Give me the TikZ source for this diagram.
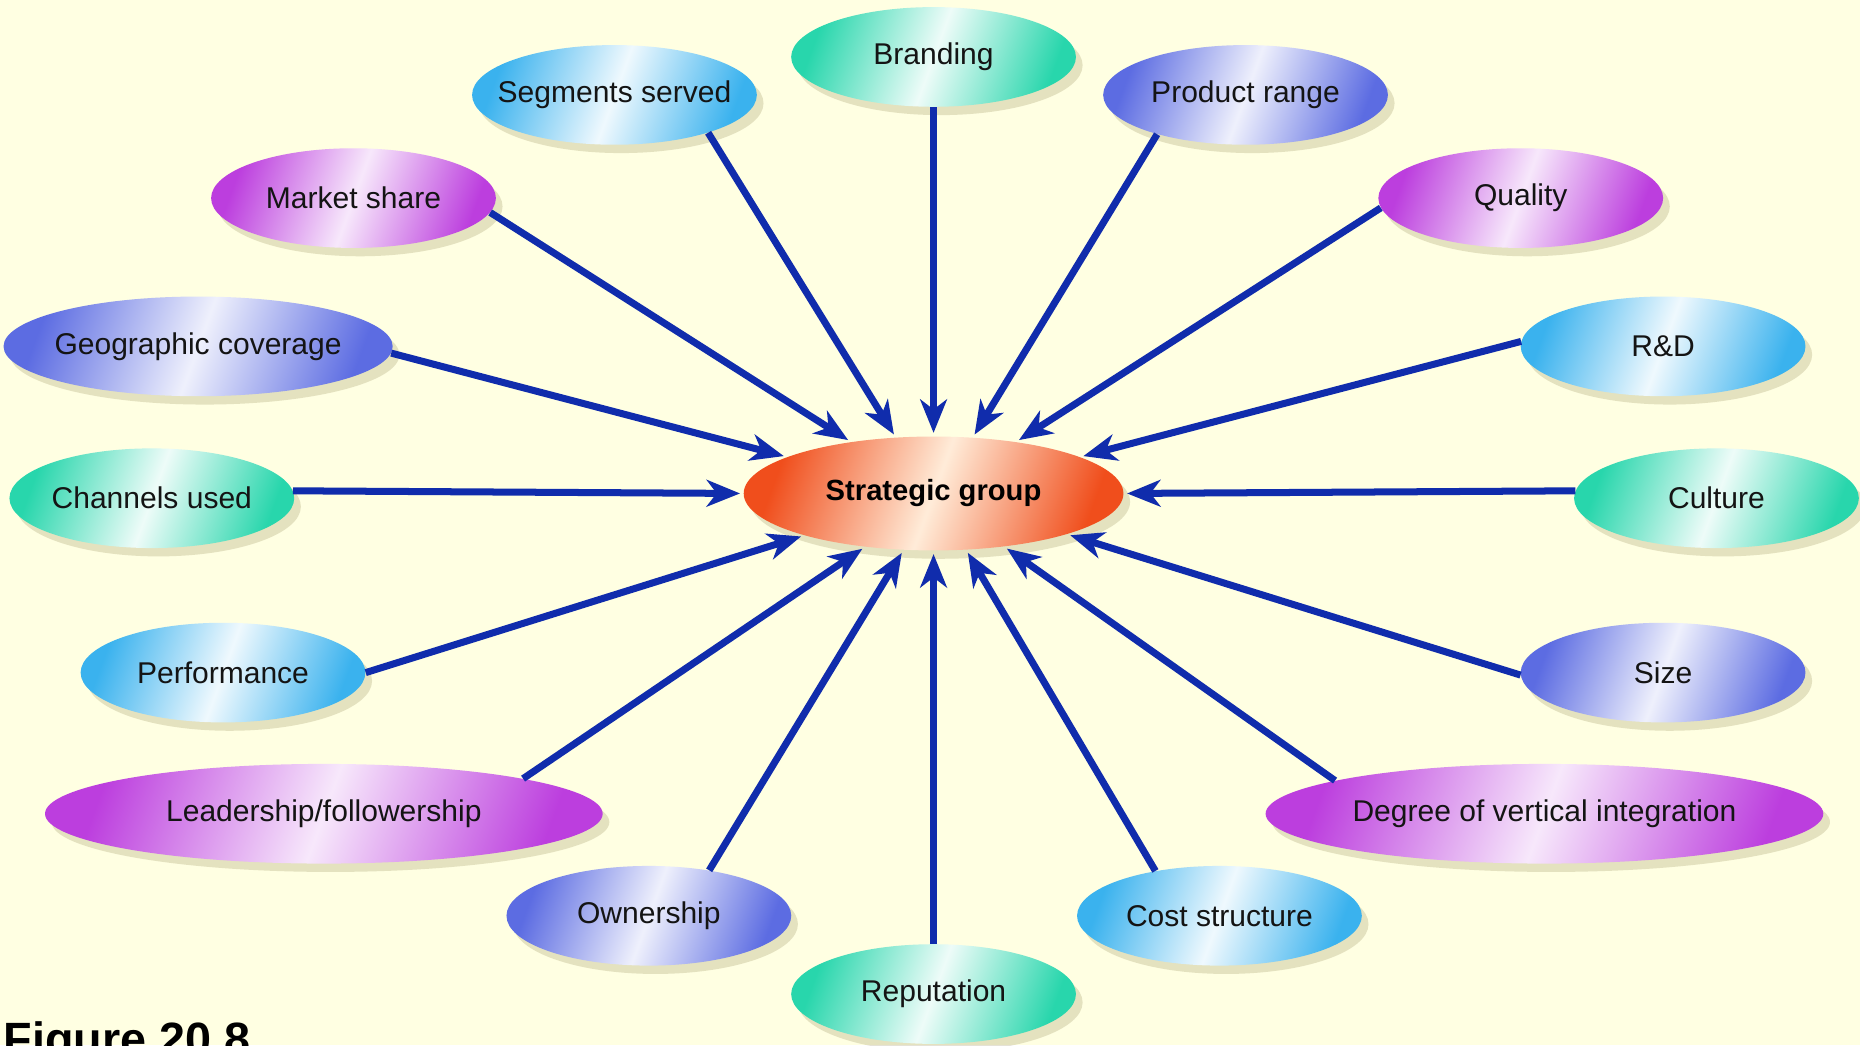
\documentclass[tikz,border=0pt]{standalone}
\usepackage{fontspec}
\setmainfont{Liberation Sans}
\usetikzlibrary{shapes.geometric,arrows.meta,shadows}

\definecolor{paper}{RGB}{255,255,226}
\definecolor{cteal}{RGB}{40,214,172}
\definecolor{csky}{RGB}{58,178,238}
\definecolor{cperi}{RGB}{92,108,226}
\definecolor{cmag}{RGB}{188,62,222}
\definecolor{corange}{RGB}{240,78,28}
\definecolor{linkblue}{RGB}{16,44,172}
\definecolor{shade}{RGB}{150,140,90}

\tikzset{
  bubble/.style={ellipse, inner xsep=-16pt, inner ysep=0pt,
    minimum width=6cm, minimum height=2.1cm,
    font=\fontsize{18}{20}\selectfont, text=black!92,
    drop shadow={shadow xshift=4pt, shadow yshift=-5pt, opacity=0.25, fill=shade}},
  tealb/.style={bubble, left color=cteal, right color=cteal, middle color=cteal!8!white, shading angle=70},
  skyb/.style={bubble, left color=csky, right color=csky, middle color=csky!8!white, shading angle=70},
  perib/.style={bubble, left color=cperi, right color=cperi, middle color=cperi!10!white, shading angle=70},
  magb/.style={bubble, left color=cmag, right color=cmag, middle color=cmag!12!white, shading angle=70},
  wide/.style={minimum width=8.2cm},
  xwide/.style={minimum width=11.75cm},
  hub/.style={ellipse, inner xsep=-10pt, inner ysep=0pt, minimum width=8cm, minimum height=2.4cm,
    left color=corange, right color=corange, middle color=orange!15!white, shading angle=70,
    font=\bfseries\fontsize{17.5}{19}\selectfont, text=black,
    drop shadow={shadow xshift=4pt, shadow yshift=-5pt, opacity=0.25, fill=shade}},
  link/.style={draw=linkblue, line width=4.2pt,
    -{Stealth[length=20pt,width=16pt,inset=6pt]}, shorten >=2pt},
}

\begin{document}
\begin{tikzpicture}[x=0.025cm, y=-0.025cm]
  \clip (0,0) rectangle (1568,881);
  \fill[paper] (0,0) rectangle (1568,881);

  % centre
  \node[hub] (sg) at (787,416) {Strategic group};

  % surrounding factors
  \node[tealb]        (brand) at (787,48)   {Branding};
  \node[skyb]         (seg)   at (518,80)   {Segments served};
  \node[perib]        (prod)  at (1050,80)  {Product range};
  \node[magb]         (mkt)   at (298,167)  {Market share};
  \node[magb]         (qual)  at (1282,167) {Quality};
  \node[perib,wide]   (geo)   at (167,292)  {Geographic coverage};
  \node[skyb]         (rd)    at (1402,292) {R\&D};
  \node[tealb]        (chan)  at (128,420)  {Channels used};
  \node[tealb]        (cult)  at (1447,420) {Culture};
  \node[skyb]         (perf)  at (188,567)  {Performance};
  \node[perib]        (size)  at (1402,567) {Size};
  \node[magb,xwide]   (lead)  at (273,686)  {Leadership/followership};
  \node[magb,xwide]   (vert)  at (1302,686) {Degree of vertical integration};
  \node[perib]        (own)   at (547,772)  {Ownership};
  \node[skyb]         (cost)  at (1028,772) {Cost structure};
  \node[tealb]        (rep)   at (787,838)  {Reputation};

  % arrows into the centre
  \draw[link] (brand.270) -- (sg.90);
  \draw[link] (seg.-22)   -- (sg.124);
  \draw[link] (prod.204)  -- (sg.55);
  \draw[link] (mkt.-6)    -- (sg.148);
  \draw[link] (qual.184)  -- (sg.32);
  \draw[link] (geo.-2)    -- (sg.166);
  \draw[link] (rd.178)    -- (sg.14);
  \draw[link] (chan.3)    -- (sg.180);
  \draw[link] (cult.177)  -- (sg.0);
  \draw[link] (perf.0)    -- (sg.198);
  \draw[link] (size.181)  -- (sg.-17);
  \draw[link] (lead.10)   -- (sg.218);
  \draw[link] (vert.171)  -- (sg.-37);
  \draw[link] (own.37)    -- (sg.242);
  \draw[link] (cost.145)  -- (sg.-60);
  \draw[link] (rep.90)    -- (sg.-90);

  % caption, running off the lower edge
  \node[anchor=base west, inner sep=0pt, font=\bfseries\fontsize{28}{30}\selectfont] (fig) at (3,890) {Figure 20.8};
\end{tikzpicture}
\end{document}
